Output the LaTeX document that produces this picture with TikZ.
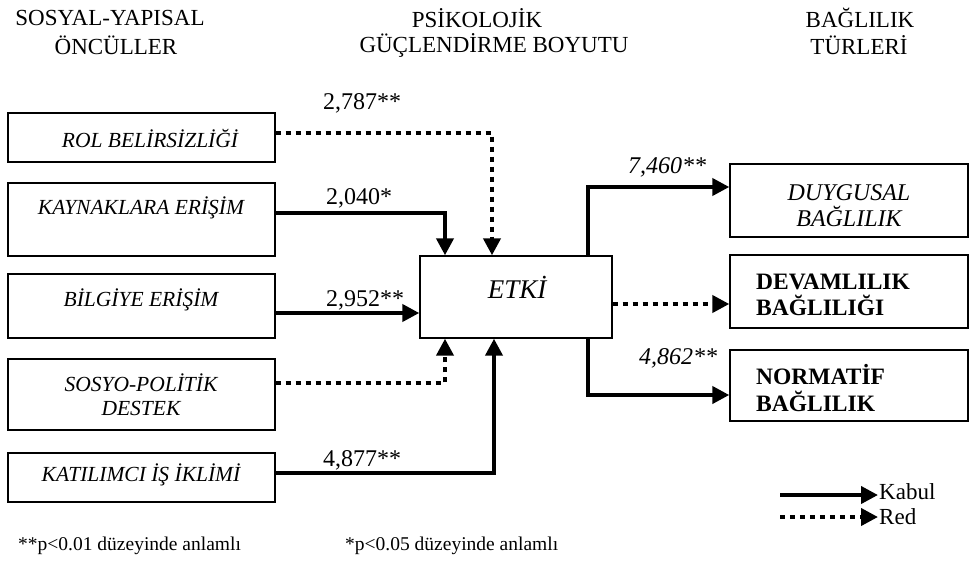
\documentclass[tikz,border=0pt]{standalone}
\usepackage{fontspec}
\setmainfont{Liberation Serif}
\usetikzlibrary{arrows.meta}
\tikzset{
  box/.style={draw, line width=1.4pt, inner sep=0pt},
  lbox/.style={box, minimum width=267pt},
  rbox/.style={box, minimum width=238pt},
  btxt/.style={font=\fontsize{21.5}{24}\selectfont\itshape, inner sep=0pt},
  rtxt/.style={font=\fontsize{24}{26}\selectfont\itshape, inner sep=0pt, align=center},
  bold/.style={font=\fontsize{23.5}{26.5}\selectfont\bfseries, inner sep=0pt, align=left, anchor=west},
  hdr/.style={font=\fontsize{23}{25}\selectfont, inner sep=0pt},
  num/.style={font=\fontsize{24}{26}\selectfont, inner sep=0pt},
  inum/.style={num, font=\fontsize{24}{26}\selectfont\itshape},
  note/.style={font=\fontsize{19.5}{22}\selectfont, inner sep=0pt, anchor=west},
  kabul/.style={line width=4pt, -{Triangle[length=17pt,width=17pt]}},
  red/.style={kabul, dash pattern=on 5pt off 5pt},
}
\begin{document}
\begin{tikzpicture}[x=1pt,y=-1pt]
\useasboundingbox (0,0) rectangle (971,563);
% headers
\node[hdr] (h1a) at (110,18) {SOSYAL-YAPISAL};
\node[hdr] (h1b) at (116,45) {ÖNCÜLLER};
\node[hdr] (h2a) at (477,18) {PSİKOLOJİK};
\node[hdr] (h2b) at (494,45) {GÜÇLENDİRME BOYUTU};
\node[hdr] (h3a) at (860,18) {BAĞLILIK};
\node[hdr] (h3b) at (859,45) {TÜRLERİ};
% left boxes
\node[lbox, minimum height=49pt] (rol) at (141.5,137.5) {};
\node[lbox, minimum height=73pt] (kay) at (141.5,219.5) {};
\node[lbox, minimum height=64pt] (bil) at (141.5,306) {};
\node[lbox, minimum height=71pt] (sos) at (141.5,394.5) {};
\node[lbox, minimum height=49pt] (kat) at (141.5,477.5) {};
\node[btxt] (trol) at (150,139) {ROL BELİRSİZLİĞİ};
\node[btxt] (tkay) at (141,208) {KAYNAKLARA ERİŞİM};
\node[btxt] (tbil) at (141,300) {BİLGİYE ERİŞİM};
\node[btxt, align=center] (tsos) at (141,395) {SOSYO-POLİTİK\\DESTEK};
\node[btxt] (tkat) at (141,475) {KATILIMCI İŞ İKLİMİ};
% center box
\node[box, minimum width=192pt, minimum height=82pt] (etki) at (516,297) {};
\node[inner sep=0pt, font=\fontsize{27}{30}\selectfont\itshape] (tetki) at (517,287) {ETKİ};
% right boxes
\node[rbox, minimum height=73pt] (duy) at (849,200.5) {};
\node[rbox, minimum height=73pt] (dev) at (849,291.5) {};
\node[rbox, minimum height=71pt] (nor) at (849,385.5) {};
\node[rtxt] (tduy) at (849,206) {DUYGUSAL\\BAĞLILIK};
\node[bold] (tdev) at (756,295) {DEVAMLILIK\\BAĞLILIĞI};
\node[bold] (tnor) at (756,388) {NORMATİF\\BAĞLILIK};
% connectors into ETKI
\draw[red] ([yshift=4.5pt]rol.east) -| ([xshift=-24pt]etki.north);
\draw[kabul] ([yshift=6.5pt]kay.east) -| ([xshift=-71pt]etki.north);
\draw[kabul] ([yshift=-7pt]bil.east) -- ([yshift=-7pt]bil.east -| etki.west);
\draw[red] ([yshift=11.5pt]sos.east) -| ([xshift=-71pt]etki.south);
\draw[kabul] ([yshift=4.5pt]kat.east) -| ([xshift=-22pt]etki.south);
% connectors out of ETKI
\draw[kabul] ([xshift=72pt]etki.north) |- ([yshift=13.5pt]duy.west);
\draw[red] ([yshift=-7pt]etki.east) -- ([yshift=-7pt]etki.east -| dev.west);
\draw[kabul] ([xshift=72pt]etki.south) |- ([yshift=-9.5pt]nor.west);
% labels
\node[num] (n1) at (362,103) {2,787**};
\node[num] (n2) at (359,198) {2,040*};
\node[num] (n3) at (365,300) {2,952**};
\node[num] (n4) at (362,460) {4,877**};
\node[inum] (n5) at (667,167) {7,460**};
\node[inum] (n6) at (678,358) {4,862**};
% legend
\coordinate (la) at (780,495);
\coordinate (lb) at (878,495);
\coordinate (lc) at (780,517);
\coordinate (ld) at (878,517);
\draw[kabul] (la) -- (lb);
\draw[red] (lc) -- (ld);
\node[note, font=\fontsize{23}{25}\selectfont] (kab) at (879,492) {Kabul};
\node[note, font=\fontsize{23}{25}\selectfont] (rd) at (879,517) {Red};
% footnotes
\node[note] (f1) at (18,546) {**p<0.01 düzeyinde anlamlı};
\node[note] (f2) at (345,546) {*p<0.05 düzeyinde anlamlı};
\end{tikzpicture}
\end{document}
